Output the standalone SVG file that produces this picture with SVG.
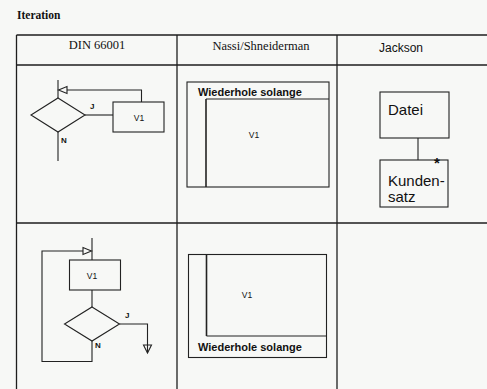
<svg xmlns="http://www.w3.org/2000/svg" width="487" height="389" viewBox="0 0 487 389">
<style>
.bg{fill:#f7f8f6}
.grid{stroke:#1e1e1e;stroke-width:1.3;fill:none}
.ln{stroke:#222;stroke-width:1.1;fill:none}
.box{stroke:#222;stroke-width:1.1;fill:none}
.thick{stroke:#222;stroke-width:1.6;fill:none}
.arr{stroke:#222;stroke-width:1.1;fill:none}
.serif{font-family:"Liberation Serif","Times New Roman",serif;fill:#111}
.sans{font-family:"Liberation Sans",Arial,sans-serif;fill:#111}
.small{font-family:"Liberation Sans",Arial,sans-serif;font-size:8px;font-weight:bold;fill:#111}
.v1{font-family:"Liberation Sans",Arial,sans-serif;font-size:8.5px;fill:#111}
.ns{font-family:"Liberation Sans",Arial,sans-serif;font-size:11px;font-weight:bold;fill:#111}
.jk{font-family:"Liberation Sans",Arial,sans-serif;font-size:15px;fill:#111}
</style>
<rect class="bg" x="0" y="0" width="487" height="389"/>
<text class="serif" x="17" y="19" font-size="11.5" font-weight="bold">Iteration</text>
<g id="table">
<line class="grid" x1="16.5" y1="35" x2="487" y2="35"/>
<line class="grid" x1="16.5" y1="65" x2="487" y2="65"/>
<line class="grid" x1="16.5" y1="223" x2="487" y2="223"/>
<line class="grid" x1="16.5" y1="35" x2="16.5" y2="389"/>
<line class="grid" x1="177" y1="35" x2="177" y2="389" stroke-width="1"/>
<line class="grid" x1="337" y1="35" x2="337" y2="389" stroke-width="1"/>
<text class="serif" x="97" y="49" font-size="12.5" text-anchor="middle">DIN 66001</text>
<text class="serif" x="261" y="50" font-size="12.5" text-anchor="middle">Nassi/Shneiderman</text>
<text class="sans" x="401" y="52" font-size="12" text-anchor="middle">Jackson</text>
</g>
<g id="din1-decision">
<polygon class="box" points="58,98 85,115 58,132 31,115"/>
<text class="small" x="90" y="109">J</text>
<text class="small" x="61" y="143">N</text>
</g>
<g id="din1-v1">
<rect class="box" x="113" y="102" width="51" height="30"/>
<text class="v1" x="139" y="121" text-anchor="middle">V1</text>
</g>
<g id="ns1">
<rect class="box" x="187" y="82" width="142" height="105"/>
<line class="ln" x1="206" y1="99" x2="329" y2="99"/>
<line class="thick" x1="206" y1="99" x2="206" y2="187"/>
<text class="ns" x="198" y="96">Wiederhole solange</text>
<text class="v1" x="254" y="138" text-anchor="middle">V1</text>
</g>
<g id="jk-datei">
<rect class="box" x="380" y="92" width="69" height="46"/>
<text class="jk" x="388" y="115">Datei</text>
</g>
<g id="jk-kundensatz">
<rect class="box" x="380" y="160" width="68" height="47"/>
<text class="jk" x="437" y="168" font-size="9" font-weight="bold" text-anchor="middle">*</text>
<text class="jk" x="388" y="186" font-size="14">Kunden-</text>
<text class="jk" x="388" y="202" font-size="14">satz</text>
</g>
<g id="din2-v1">
<rect class="box" x="69.5" y="260" width="51" height="30"/>
<text class="v1" x="92" y="279" text-anchor="middle">V1</text>
</g>
<g id="din2-decision">
<polygon class="box" points="92,307 119.5,324 92,341 64.5,324"/>
<text class="small" x="125" y="318">J</text>
<text class="small" x="95" y="348">N</text>
</g>
<g id="ns2">
<rect class="box" x="188.5" y="254.5" width="138" height="103"/>
<line class="thick" x1="206.5" y1="254.5" x2="206.5" y2="336"/>
<line class="ln" x1="206.5" y1="336" x2="326.5" y2="336"/>
<text class="v1" x="247" y="298" text-anchor="middle">V1</text>
<text class="ns" x="198" y="351">Wiederhole solange</text>
</g>
<g id="connectors">
<line class="ln" x1="58" y1="80" x2="58" y2="98"/>
<line class="ln" x1="58" y1="132" x2="58" y2="161"/>
<line class="ln" x1="85" y1="115" x2="113" y2="115"/>
<polyline class="ln" points="141.5,102 141.5,90 67,90"/>
<polygon class="arr" points="58.5,90 67,86.5 67,93.5"/>
<line class="ln" x1="418" y1="138" x2="418" y2="160"/>
<line class="ln" x1="92" y1="238" x2="92" y2="260"/>
<line class="ln" x1="92" y1="290" x2="92" y2="307"/>
<polyline class="ln" points="83,251 42,251 42,361.5 92,361.5 92,341"/>
<polygon class="arr" points="91.5,251 83,247.5 83,254.5"/>
<polyline class="ln" points="119.5,324 147.5,324 147.5,353"/>
<polygon class="arr" points="143.5,345 151.5,345 147.5,353"/>
</g>
</svg>
